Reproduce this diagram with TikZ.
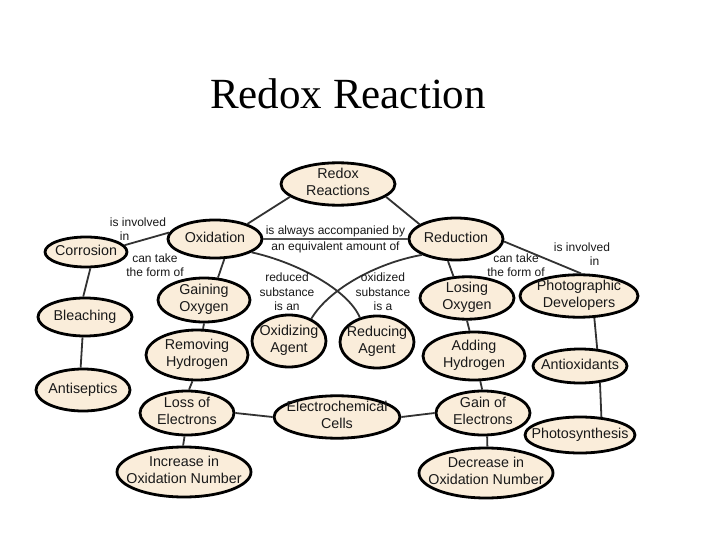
\documentclass[tikz,border=0pt]{standalone}
\usepackage{fontspec}
\setmainfont{Liberation Sans}
\newfontfamily\titlefont{Liberation Serif}
\usetikzlibrary{shapes.geometric}
\definecolor{cream}{RGB}{250,237,218}
\definecolor{lnk}{RGB}{50,50,50}
\definecolor{txt}{RGB}{25,25,25}
\newcommand\E[1]{\makebox[0pt]{\begin{tabular}{@{}c@{}}#1\end{tabular}}}
\begin{document}
\begin{tikzpicture}[x=1pt,y=-1pt,
  ell/.style={ellipse, draw=black, line width=2.8pt, fill=cream, inner xsep=0pt, inner ysep=-2pt,
              font=\fontsize{14.3}{17}\selectfont, text=txt},
  lab/.style={font=\fontsize{12}{14.5}\selectfont, inner sep=1pt, text=txt},
  con/.style={draw=lnk, line width=1.8pt},
  big/.style={draw=lnk!85, line width=2.8pt},
]
\useasboundingbox[fill=white] (0,0) rectangle (720,540);
\node[font=\titlefont\fontsize{43}{50}\selectfont, anchor=base, inner sep=0pt] (title) at (348,109) {Redox Reaction};

\path
  (338,184) node[ell, minimum width=114pt, minimum height=42pt] (rr) {\E{Redox\\Reactions}}
  (215,239) node[ell, minimum width=94pt, minimum height=38pt] (ox) {\E{Oxidation}}
  (456,239) node[ell, minimum width=94pt, minimum height=42pt] (rd) {\E{Reduction}}
  (86,252)  node[ell, minimum width=82pt, minimum height=30pt] (cor) {\E{Corrosion}}
  (85,317)  node[ell, minimum width=94pt, minimum height=38pt] (bl) {\E{Bleaching}}
  (83,390)  node[ell, minimum width=94pt, minimum height=42pt] (as) {\E{Antiseptics}}
  (204,300) node[ell, minimum width=92pt, minimum height=44pt] (go) {\E{Gaining\\Oxygen}}
  (197,355) node[ell, minimum width=102pt, minimum height=50pt] (rh) {\E{Removing\\Hydrogen}}
  (187,413) node[ell, minimum width=94pt, minimum height=44pt] (le) {\E{Loss of\\Electrons}}
  (184,472) node[ell, minimum width=134pt, minimum height=50pt] (inc) {\E{Increase in\\Oxidation Number}}
  (337,417) node[ell, minimum width=126pt, minimum height=40pt] (ec) {\E{Electrochemical\\Cells}}
  (289,341) node[ell, minimum width=74pt, minimum height=52pt] (oa) {\E{Oxidizing\\Agent}}
  (377,342) node[ell, minimum width=74pt, minimum height=52pt] (ra) {\E{Reducing\\Agent}}
  (467,298) node[ell, minimum width=94pt, minimum height=42pt] (lo) {\E{Losing\\Oxygen}}
  (474,356) node[ell, minimum width=102pt, minimum height=48pt] (ah) {\E{Adding\\Hydrogen}}
  (483,413) node[ell, minimum width=94pt, minimum height=44pt] (ge) {\E{Gain of\\Electrons}}
  (486,473) node[ell, minimum width=134pt, minimum height=50pt] (dec) {\E{Decrease in\\Oxidation Number}}
  (579,296) node[ell, minimum width=118pt, minimum height=42pt] (pd) {\E{Photographic\\Developers}}
  (580,366) node[ell, minimum width=94pt, minimum height=34pt] (ao) {\E{Antioxidants}}
  (580,435) node[ell, minimum width=110pt, minimum height=36pt] (ps) {\E{Photosynthesis}};

\draw[con] (ox.25) -- (rr.195);
\draw[con] (rr.-15) -- (rd.158);
\draw[big] (ox.east) -- (rd.west)
   node[pos=.5, above, lab] (l1) {is always accompanied by}
   node[pos=.5, below, lab] (l2) {an equivalent amount of};
\draw[con] (cor.10) -- (ox.172);
\draw[con] (ox.-65) -- (go.58);
\draw[con] (cor.-75) -- (bl.95);
\draw[con] (bl.-97) -- (as.96);
\draw[con] (go.-90) -- (rh.77);
\draw[con] (rh.-100) -- (le.85);
\draw[con] (le.-96) -- (inc.92);
\draw[con] (le.east) -- (ec.west);
\draw[con] (ec.east) -- (ge.west);
\draw[con] (rd.-110) -- (lo.122);
\draw[con] (rd.-3) -- (pd.85);
\draw[con] (lo.-90) -- (ah.100);
\draw[con] (ah.-76) -- (ge.92);
\draw[con] (ge.-80) -- (dec.87);
\draw[con] (pd.-55) -- (ao.45);
\draw[con] (ao.-40) -- (ps.40);
\draw[con] (ox.-20) .. controls +(45,10) and +(-12,-28) .. (ra.125);
\draw[con] (rd.205) .. controls +(-45,8) and +(18,-30) .. (oa.45);

\node[lab, align=left] (l3) at (138,229) {is involved\\\hspace*{10pt}in};
\node[lab, align=center] (l4) at (155,265) {can take\\the form of};
\node[lab, align=center] (l5) at (516,265) {can take\\the form of};
\node[lab, align=left] (l6) at (582,254) {is involved\\\hspace*{36pt}in};
\node[lab, align=center] (l7) at (287,292) {reduced\\substance\\is an};
\node[lab, align=center] (l8) at (383,292) {oxidized\\substance\\is a};
\end{tikzpicture}
\end{document}
